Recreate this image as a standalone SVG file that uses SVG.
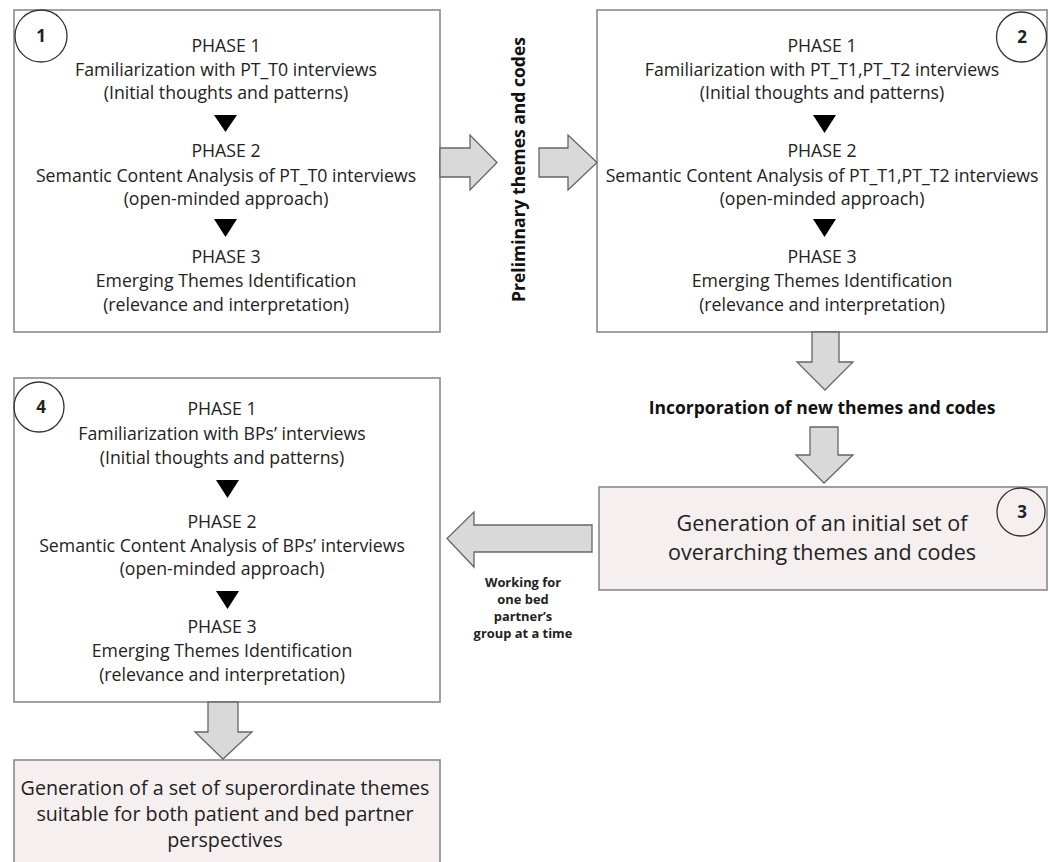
<svg xmlns="http://www.w3.org/2000/svg" width="1049" height="862" viewBox="0 0 1049 862">
<style>
.box{fill:#ffffff;stroke:#8a8a8a;stroke-width:1.6}
.pink{fill:#f6efef;stroke:#8a8a8a;stroke-width:1.6}
.circ{fill:none;stroke:#333;stroke-width:1.3}
.num{font-family:"Open Sans",sans-serif;font-weight:bold;font-size:17px;fill:#222;text-anchor:middle}
.t{font-family:"Open Sans",sans-serif;font-size:17.7px;fill:#222;text-anchor:middle}
.big{font-family:"Open Sans",sans-serif;font-size:21.5px;fill:#222;text-anchor:middle}
.mid{font-family:"Open Sans",sans-serif;font-size:19.7px;fill:#222;text-anchor:middle}
.lbl{font-family:"Open Sans",sans-serif;font-weight:bold;font-size:17.5px;fill:#111;text-anchor:middle}
.sm{font-family:"Open Sans",sans-serif;font-weight:bold;font-size:12.9px;fill:#222;text-anchor:middle}
.arr{fill:#d9d9d9;stroke:#666;stroke-width:1.3;stroke-linejoin:miter}
.tri{fill:#000}
</style>

<g id="node1">
<rect class="box" x="14" y="10" width="426" height="322"/>
<circle class="circ" cx="41" cy="36" r="26"/>
<text class="num" x="41" y="42">1</text>
<text class="t" x="226" y="52">PHASE 1</text>
<text class="t" x="226" y="76">Familiarization with PT_T0 interviews</text>
<text class="t" x="226" y="99">(Initial thoughts and patterns)</text>
<polygon class="tri" points="214,115 237,115 225.5,132"/>
<text class="t" x="226" y="157">PHASE 2</text>
<text class="t" x="226" y="182">Semantic Content Analysis of PT_T0 interviews</text>
<text class="t" x="226" y="205">(open-minded approach)</text>
<polygon class="tri" points="214,219 237,219 225.5,237"/>
<text class="t" x="226" y="263">PHASE 3</text>
<text class="t" x="226" y="287">Emerging Themes Identification</text>
<text class="t" x="226" y="311">(relevance and interpretation)</text>
</g>

<g id="node2">
<rect class="box" x="597" y="10" width="450" height="322"/>
<circle class="circ" cx="1021.5" cy="37" r="25"/>
<text class="num" x="1022" y="43">2</text>
<text class="t" x="822" y="52">PHASE 1</text>
<text class="t" x="822" y="76">Familiarization with PT_T1,PT_T2 interviews</text>
<text class="t" x="822" y="99">(Initial thoughts and patterns)</text>
<polygon class="tri" points="813,115 836,115 824.5,133"/>
<text class="t" x="822" y="157">PHASE 2</text>
<text class="t" x="822" y="182">Semantic Content Analysis of PT_T1,PT_T2 interviews</text>
<text class="t" x="822" y="205">(open-minded approach)</text>
<polygon class="tri" points="813,219 836,219 824.5,237"/>
<text class="t" x="822" y="263">PHASE 3</text>
<text class="t" x="822" y="287">Emerging Themes Identification</text>
<text class="t" x="822" y="311">(relevance and interpretation)</text>
</g>

<g id="node3">
<rect class="pink" x="599" y="487" width="448" height="103"/>
<circle class="circ" cx="1021" cy="512" r="24"/>
<text class="num" x="1022" y="518">3</text>
<text class="big" x="822" y="531">Generation of an initial set of</text>
<text class="big" x="822" y="560">overarching themes and codes</text>
</g>

<g id="node4">
<rect class="box" x="14" y="378" width="426" height="324"/>
<circle class="circ" cx="39" cy="407" r="25"/>
<text class="num" x="41" y="413">4</text>
<text class="t" x="222" y="415">PHASE 1</text>
<text class="t" x="222" y="440">Familiarization with BPs’ interviews</text>
<text class="t" x="222" y="464">(Initial thoughts and patterns)</text>
<polygon class="tri" points="216,480 239,480 227.5,498"/>
<text class="t" x="222" y="528">PHASE 2</text>
<text class="t" x="222" y="552">Semantic Content Analysis of BPs’ interviews</text>
<text class="t" x="222" y="575">(open-minded approach)</text>
<polygon class="tri" points="216,591 239,591 227.5,609"/>
<text class="t" x="222" y="633">PHASE 3</text>
<text class="t" x="222" y="657">Emerging Themes Identification</text>
<text class="t" x="222" y="681">(relevance and interpretation)</text>
</g>

<g id="node5">
<rect class="pink" x="14" y="760" width="426" height="110"/>
<text class="mid" x="225" y="795">Generation of a set of superordinate themes</text>
<text class="mid" x="225" y="821">suitable for both patient and bed partner</text>
<text class="mid" x="225" y="847">perspectives</text>
</g>

<g id="connectors">
<polygon class="arr" points="440,148 470,148 470,135 497,162.5 470,190 470,177 440,177"/>
<polygon class="arr" points="539,148 568,148 568,135 597,162.5 568,190 568,177 539,177"/>
<text class="lbl" transform="translate(525,169.5) rotate(-90)" x="0" y="0">Preliminary themes and codes</text>
<polygon class="arr" points="812,332 839,332 839,362 853,362 825,390 797,362 812,362"/>
<text class="lbl" x="822" y="414">Incorporation of new themes and codes</text>
<polygon class="arr" points="810,427 838,427 838,455 853,455 824,483 796,455 810,455"/>
<polygon class="arr" points="592,525 474,525 474,512 447,538.5 474,567 474,552 592,552"/>
<text class="sm" x="523" y="587">Working for</text>
<text class="sm" x="523" y="604">one bed</text>
<text class="sm" x="523" y="621">partner’s</text>
<text class="sm" x="523" y="638">group at a time</text>
<polygon class="arr" points="208,702 238,702 238,732 252,732 223,759 195,732 208,732"/>
</g>
</svg>
